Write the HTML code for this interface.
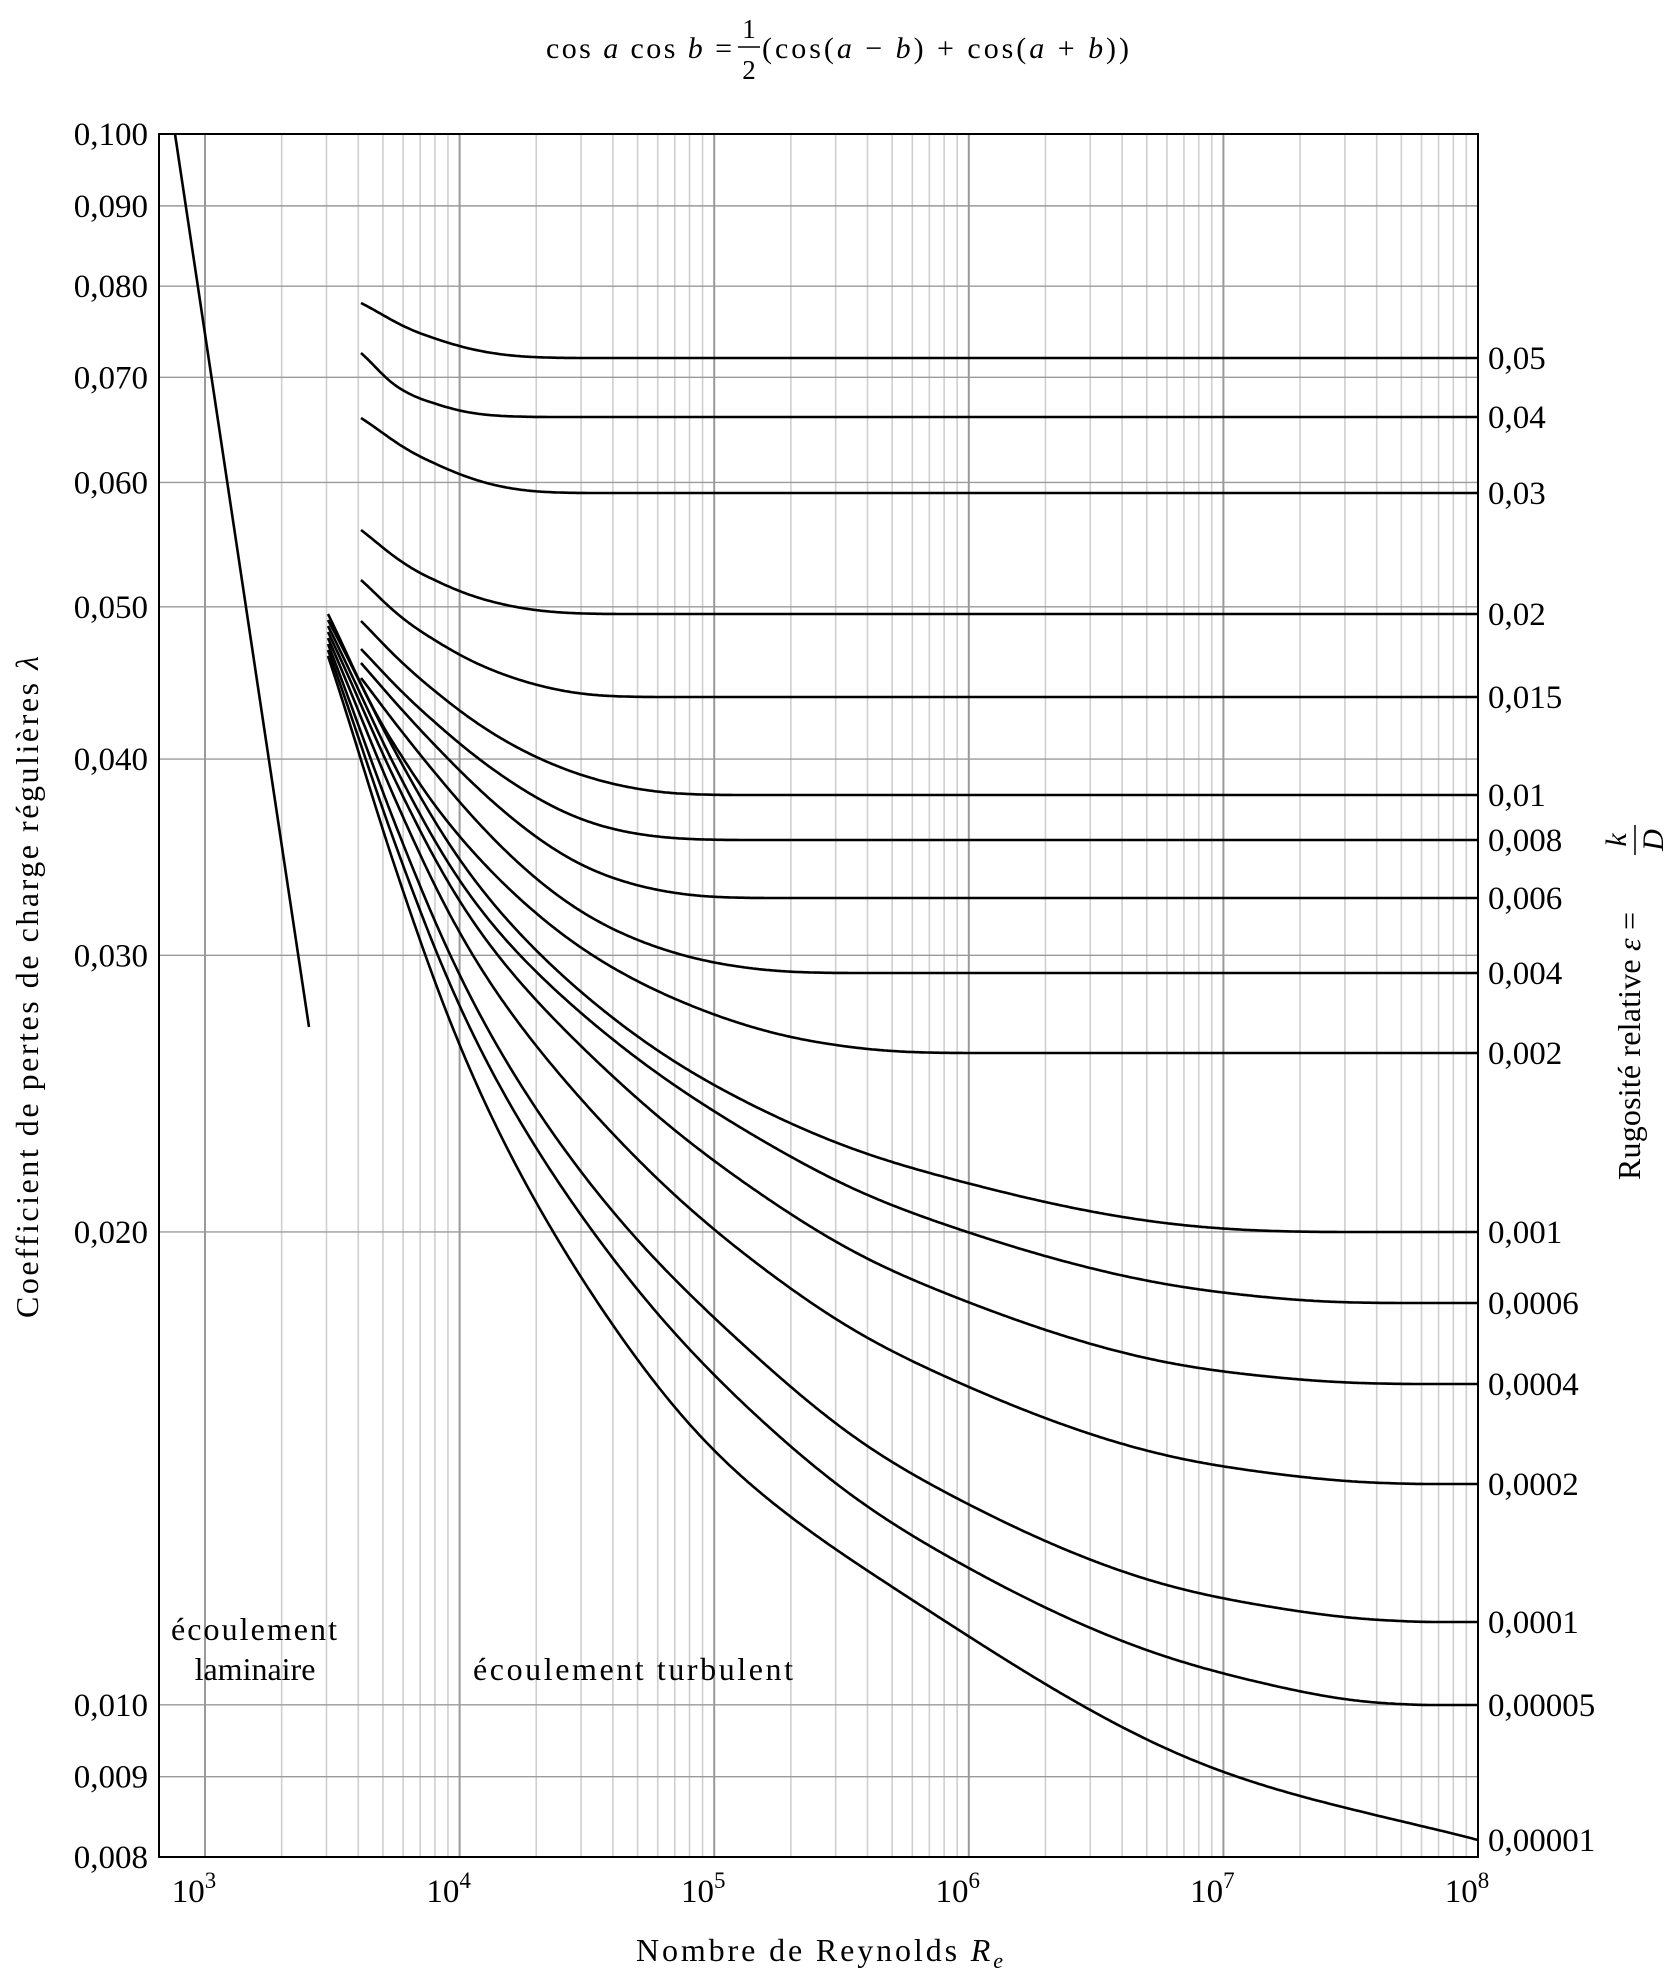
<!DOCTYPE html>
<html><head><meta charset="utf-8"><style>
html,body{margin:0;padding:0;background:#fff}
svg{display:block}
text{font-family:"Liberation Serif","DejaVu Serif",serif;fill:#000}
</style></head><body>
<svg id="s" width="1665" height="1977" viewBox="0 0 1665 1977" xmlns="http://www.w3.org/2000/svg">
<g id="grid"></g>
<g id="curves" fill="none" stroke="#000" stroke-width="2.6" stroke-linejoin="round"></g>
<rect x="159" y="134" width="1319" height="1723" fill="none" stroke="#000" stroke-width="2"/>
<g font-size="33" text-anchor="end" id="ylab"></g>
<g font-size="33" id="rlab"></g>
<g id="xlab" font-size="33"></g>
<text x="546" y="58" font-size="30" textLength="186" lengthAdjust="spacing"><tspan>cos </tspan><tspan font-style="italic">a</tspan><tspan> cos </tspan><tspan font-style="italic">b</tspan><tspan> =</tspan></text>
<text x="749" y="38" font-size="27" text-anchor="middle">1</text>
<line x1="738" y1="47" x2="760" y2="47" stroke="#000" stroke-width="1.5"/>
<text x="749" y="79" font-size="27" text-anchor="middle">2</text>
<text x="762" y="58" font-size="30" textLength="367" lengthAdjust="spacing"><tspan>(cos(</tspan><tspan font-style="italic">a</tspan><tspan> − </tspan><tspan font-style="italic">b</tspan><tspan>) + cos(</tspan><tspan font-style="italic">a</tspan><tspan> + </tspan><tspan font-style="italic">b</tspan><tspan>))</tspan></text>
<text x="171" y="1640" font-size="32" textLength="166" lengthAdjust="spacing">écoulement</text>
<text x="255" y="1680" font-size="32" text-anchor="middle">laminaire</text>
<text x="473" y="1680" font-size="32" textLength="320" lengthAdjust="spacing">écoulement turbulent</text>
<text x="636" y="1961" font-size="32" textLength="367" lengthAdjust="spacing">Nombre de Reynolds <tspan font-style="italic">R</tspan><tspan font-style="italic" font-size="22" dy="7">e</tspan></text>
<text transform="translate(38,1318) rotate(-90)" font-size="32" textLength="662" lengthAdjust="spacing">Coefficient de pertes de charge régulières <tspan font-style="italic">λ</tspan></text>
<g transform="translate(1640,1000) rotate(-90)">
<text x="-180" y="0" font-size="32" textLength="268" lengthAdjust="spacing">Rugosité relative <tspan font-style="italic">ε</tspan> =</text>
<text x="160" y="-14" font-size="30" font-style="italic" text-anchor="middle">k</text>
<line x1="145" y1="-5" x2="175" y2="-5" stroke="#000" stroke-width="1.5"/>
<text x="160" y="23" font-size="30" font-style="italic" text-anchor="middle">D</text>
</g>
</svg>
<script>
(function(){
var NS="http://www.w3.org/2000/svg";
function el(tag,attrs,parent,txt){var e=document.createElementNS(NS,tag);for(var k in attrs)e.setAttribute(k,attrs[k]);if(txt!==undefined)e.textContent=txt;parent.appendChild(e);return e;}
var L=159,R=1478,T=134,B=1857;
function X(re){return 205+254.6*(Math.log10(re)-3);}
function Y(l){return 134+1570.8*Math.log10(0.1/l);}
var g=document.getElementById('grid');
for(var d=3;d<8;d++){for(var m=1;m<10;m++){var re=m*Math.pow(10,d);var x=X(re);if(x<L||x>R)continue;
 el('line',{x1:x,y1:T,x2:x,y2:B,stroke:m==1?'#9a9a9a':'#cfcfcf','stroke-width':m==1?2:1.6},g);}}
var yv=[0.008,0.009,0.010,0.020,0.030,0.040,0.050,0.060,0.070,0.080,0.090,0.100];
var yl=document.getElementById('ylab');
yv.forEach(function(v){var y=Y(v);el('line',{x1:L,y1:y,x2:R,y2:y,stroke:'#9a9a9a','stroke-width':1.4},g);
 el('text',{x:148,y:y+11},yl,v.toFixed(3).replace('.',','));});
var xl=document.getElementById('xlab');
for(var d=3;d<=8;d++){var x=X(Math.pow(10,d));var t=el('text',{x:x-11,y:1902,'text-anchor':'middle'},xl);
 el('tspan',{},t,'10');el('tspan',{dy:-14,'font-size':23},t,String(d));}
function monoF(pts){var n=pts.length,xs=pts.map(p=>p[0]),ys=pts.map(p=>p[1]),dl=[],m=[];
 for(var i=0;i<n-1;i++)dl.push((ys[i+1]-ys[i])/(xs[i+1]-xs[i]));
 m[0]=dl[0];m[n-1]=dl[n-2];
 for(i=1;i<n-1;i++){if(dl[i-1]*dl[i]<=0)m[i]=0;else{var w1=2*(xs[i+1]-xs[i])+(xs[i]-xs[i-1]),w2=(xs[i+1]-xs[i])+2*(xs[i]-xs[i-1]);m[i]=(w1+w2)/(w1/dl[i-1]+w2/dl[i]);}}
 return function(x){var i=0;while(i<n-2&&x>xs[i+1])i++;var h=xs[i+1]-xs[i],t=(x-xs[i])/h;
  var h00=2*t*t*t-3*t*t+1,h10=t*t*t-2*t*t+t,h01=-2*t*t*t+3*t*t,h11=t*t*t-t*t;
  return h00*ys[i]+h10*h*m[i]+h01*ys[i+1]+h11*h*m[i+1];};}
function smoothPath(pts){var f=monoF(pts),x0=pts[0][0],x1=pts[pts.length-1][0],xs=[],ys=[];
 for(var x=x0;x<=x1+0.01;x+=2){xs.push(x);ys.push(f(Math.min(x,x1)));}
 var n=xs.length,out=[],sig=36;
 for(var i=0;i<n;i++){var w=Math.min(i,n-1-i,Math.round(sig*2.5/2));var sg=Math.max(1,Math.min(sig,w));var s=0,ws=0;
  for(var j=-w;j<=w;j++){var ww=Math.exp(-(j*2)*(j*2)/(2*sg*sg));s+=ys[i+j]*ww;ws+=ww;}
  out.push(w==0?ys[i]:s/ws);}
 var d='M'+xs[0].toFixed(1)+','+out[0].toFixed(1);for(i=1;i<n;i++)d+=' L'+xs[i].toFixed(1)+','+out[i].toFixed(1);return d;}
var C=[
['0,05',[[361,303],[441,343],[523,358],[1478,358]]],
['0,04',[[361,353],[416,401],[490,417],[1478,417]]],
['0,03',[[361,418],[441,469],[530,493],[1478,493]]],
['0,02',[[361,530],[420,575],[462,595],[565,614],[1478,614]]],
['0,015',[[361,580],[420,633],[500,675],[600,697],[1478,697]]],
['0,01',[[361,621],[420,680],[500,740],[600,782],[680,795],[1478,795]]],
['0,008',[[361,649],[420,710],[500,776],[600,828],[690,840],[1478,840]]],
['0,006',[[361,663],[420,730],[500,810],[600,876],[714,898],[1478,898]]],
['0,004',[[361,678],[420,755],[500,848],[600,925],[716,964],[800,973],[1478,973]]],
['0,002',[[328,614],[400,760],[462,842],[530,910],[600,962],[716,1016],[800,1040],[920,1053],[1478,1053]]],
['0,001',[[328,620],[462,868],[600,1009],[716,1087],[900,1165],[1224,1229],[1302,1232],[1478,1232]]],
['0,0006',[[328,626],[462,890],[600,1030],[716,1113],[900,1209],[1224,1293],[1359,1303],[1478,1303]]],
['0,0004',[[328,632],[462,911],[600,1065],[716,1163],[900,1275],[1224,1372],[1386,1384],[1478,1384]]],
['0,0002',[[328,638],[462,943],[600,1121],[716,1232],[900,1356],[1224,1467],[1405,1484],[1478,1484]]],
['0,0001',[[328,644],[462,986],[600,1198],[716,1320],[900,1468],[1224,1599],[1417,1622],[1478,1622]]],
['0,00005',[[328,650],[462,1018],[600,1243],[716,1378],[900,1529],[1224,1674],[1405,1705],[1478,1705]]],
['0,00001',[[328,656],[462,1058],[600,1308],[716,1455],[900,1592],[1224,1773],[1478,1840]]]
];
var cg=document.getElementById('curves'),rl=document.getElementById('rlab');
C.forEach(function(c){el('path',{d:smoothPath(c[1])},cg);var p=c[1][c[1].length-1];el('text',{x:1488,y:p[1]+11},rl,c[0]);});
el('line',{x1:175,y1:134,x2:309,y2:1027},cg);
})();
</script>
</body></html>
